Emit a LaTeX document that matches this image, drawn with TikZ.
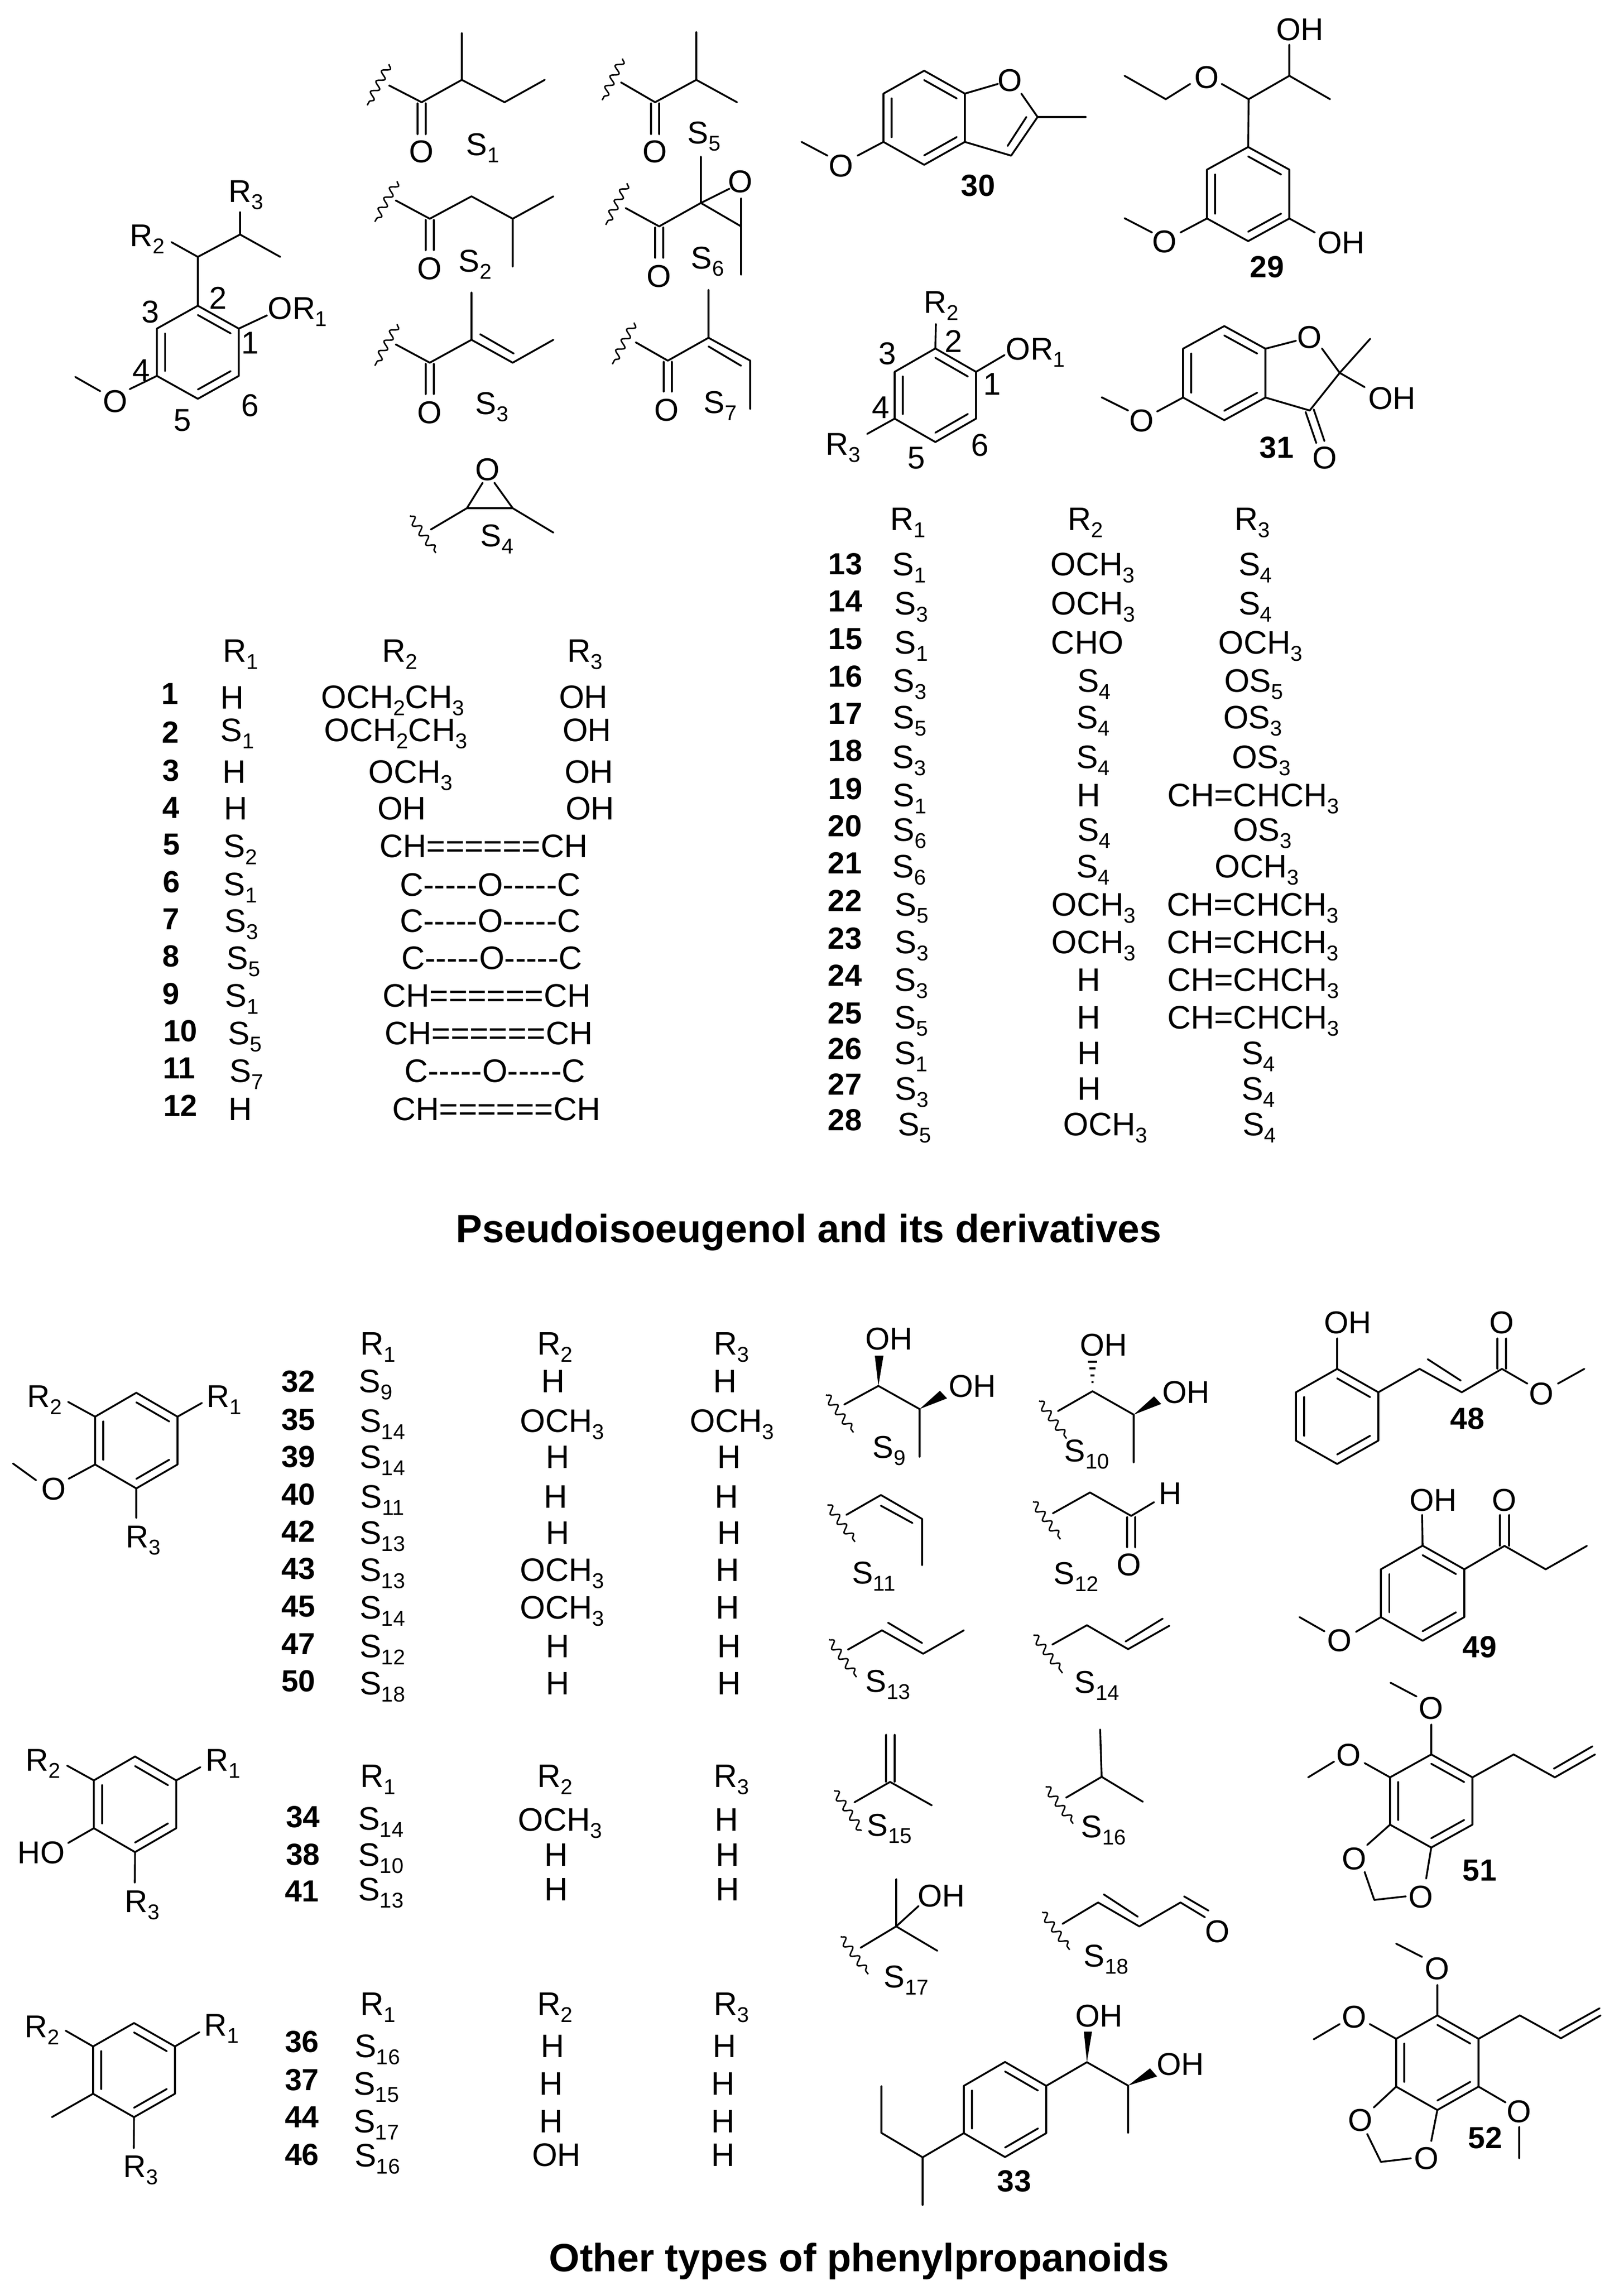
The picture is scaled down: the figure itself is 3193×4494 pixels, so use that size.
\documentclass[tikz,border=0pt]{standalone}
\usepackage{fontspec}
\newfontfamily\arial{Liberation Sans}
\usetikzlibrary{calc,decorations.pathmorphing}
\newcount\nn
\newcommand\su[1]{\raisebox{-14pt}{\fontsize{42}{42}\selectfont #1}}
\tikzset{
 bond/.style={line width=3.6pt,line join=round,line cap=round,color=black},
 wavy/.style={line width=2.8pt,decorate,decoration={snake,segment length=23pt,amplitude=7pt}},
 lab/.style={inner sep=0pt,text height=44pt,text depth=0pt,font=\arial\fontsize{62}{62}\selectfont},
 cell/.style={inner sep=0pt,text height=46pt,text depth=0pt,font=\arial\fontsize{64}{64}\selectfont},
 numb/.style={inner sep=0pt,text height=43pt,text depth=0pt,font=\arial\bfseries\fontsize{60}{60}\selectfont},
 ttl/.style={inner sep=0pt,font=\arial\bfseries\fontsize{77.5}{78}\selectfont}
}
\newcommand\lab[3]{\global\advance\nn by 1 \node[lab] (n\the\nn) at (#1,#2) {#3};}
\newcommand\nb[3]{\global\advance\nn by 1 \node[numb] (n\the\nn) at (#1,#2) {#3};}
\newcommand\cell[3]{\global\advance\nn by 1 \node[cell] (n\the\nn) at (#1,#2) {#3};}
\newcommand\hexa[6]{%
 \coordinate (#1c) at (#2,#3);
 \coordinate (#11) at (#2,{#3-#6});
 \coordinate (#12) at ({#2+#4},{#3-#5});
 \coordinate (#13) at ({#2+#4},{#3+#5});
 \coordinate (#14) at (#2,{#3+#6});
 \coordinate (#15) at ({#2-#4},{#3+#5});
 \coordinate (#16) at ({#2-#4},{#3-#5});
 \draw[bond] (#11)--(#12)--(#13)--(#14)--(#15)--(#16)--cycle;}
\newcommand\idb[3]{\draw[bond] ($(#1c)!.8!(#1#2)$) -- ($(#1c)!.8!(#1#3)$);}
\newcommand\Rone{R\su{1}}\newcommand\Rtwo{R\su{2}}\newcommand\Rthr{R\su{3}}
\newcommand\och{OCH\su{3}}
\newcommand\chch{CH=CHCH\su{3}}
\newcommand\cdb{CH======CH}
\newcommand\coc{C-----O-----C}
\begin{document}
\begin{tikzpicture}[x=1pt,y=-1pt]
\fill[white] (0,0) rectangle (3193,4494);
\useasboundingbox (0,0) rectangle (3193,4494);
% ---- pseudoisoeugenol core
\hexa{a}{389}{692.5}{80.5}{46.5}{91.5}
\idb{a}{1}{2}\idb{a}{5}{6}\idb{a}{3}{4}
\draw[bond] (a1)--(389,505)--(472,461)--(551,505) (389,505)--(337,476) (472,461)--(472,417) (a2)--(525,620) (a5)--(255,765) (148,741)--(197,769);
\lab{484}{375}{\Rthr}\lab{290}{462}{\Rtwo}\lab{585}{605}{O\Rone}
\lab{429}{585}{2}\lab{296}{612}{3}\lab{492}{673}{1}\lab{278}{727}{4}\lab{492}{796}{6}\lab{359}{825}{5}\lab{227}{788}{O}
% S1
\draw[wavy] (765,126)--(722,207);
\draw[bond] (765,168)--(829,201)--(908,157)--(992,201)--(1071,157) (908,157)--(908,65) (821,203)--(821,264) (837,203)--(837,264);
\lab{829}{297}{O}\lab{949}{283}{S\su{1}}
% S5
\draw[wavy] (1224,115)--(1184,197);
\draw[bond] (1221,162)--(1288,201)--(1369,157)--(1449,201) (1369,157)--(1369,63) (1280,203)--(1280,264) (1296,203)--(1296,264);
\lab{1288}{297}{O}\lab{1384}{260}{S\su{5}}
% S2
\draw[wavy] (781,356)--(737,436);
\draw[bond] (778,394)--(845,430)--(927,386)--(1008,430)--(1088,386) (1008,430)--(1008,524) (837,432)--(837,492) (853,432)--(853,492);
\lab{845}{527}{O}\lab{934}{512}{S\su{2}}
% S6
\draw[wavy] (1233,360)--(1191,442);
\draw[bond] (1230,409)--(1296,445)--(1378,399)--(1457,445)--(1457,540) (1378,399)--(1378,308) (1378,399)--(1434,371) (1457,390)--(1457,445) (1288,447)--(1288,507) (1304,447)--(1304,507);
\lab{1456}{356}{O}\lab{1296}{542}{O}\lab{1391}{506}{S\su{6}}
% S3
\draw[wavy] (781,637)--(737,719);
\draw[bond] (778,677)--(845,713)--(927,668)--(1008,713)--(1088,668) (927,668)--(927,575) (944,657)--(1010,695) (837,715)--(837,775) (853,715)--(853,775);
\lab{845}{810}{O}\lab{967}{792}{S\su{3}}
% S7
\draw[wavy] (1247,634)--(1204,716);
\draw[bond] (1250,673)--(1313,709)--(1393,664)--(1475,709)--(1475,804) (1393,664)--(1393,570) (1393,681)--(1457,719) (1305,711)--(1305,770) (1321,711)--(1321,770);
\lab{1311}{805}{O}\lab{1416}{790}{S\su{7}}
% S4
\draw[wavy] (806,1014)--(857,1087);
\draw[bond] (847,1041)--(918,999)--(1008,999)--(1088,1047) (918,999)--(949,949) (1008,999)--(972,949);
\lab{959}{922}{O}\lab{977}{1052}{S\su{4}}
% 30
\hexa{b}{1817}{231.5}{80}{47.5}{92.5}
\idb{b}{1}{2}\idb{b}{3}{4}\idb{b}{5}{6}
\draw[bond] (b2)--(1962,165) (2008,184)--(2040,230)--(1988,306)--(b3) (2018,230)--(1981,287) (2040,230)--(2135,230) (b5)--(1686,306) (1576,279)--(1627,306);
\lab{1986}{157}{O}\lab{1654}{325}{O}\nb{1923}{364}{30}
% 29
\hexa{c}{2454}{381.5}{81}{48}{92.5}
\idb{c}{1}{2}\idb{c}{3}{4}\idb{c}{5}{6}
\draw[bond] (c1)--(2455,195)--(2535,149)--(2535,88) (2535,149)--(2615,195) (2455,195)--(2402,165) (2340,165)--(2292,195)--(2211,149) (c5)--(2321,457) (2265,457)--(2211,429) (c3)--(2585,457);
\lab{2556}{57}{OH}\lab{2373}{151}{O}\lab{2290}{474}{O}\lab{2637}{476}{OH}\nb{2491}{524}{29}
% core 2
\hexa{d}{1839}{777}{80}{46}{92}
\idb{d}{1}{2}\idb{d}{5}{6}\idb{d}{3}{4}
\draw[bond] (d1)--(1840,637) (d2)--(1975,698) (d5)--(1705,853);
\lab{1851}{593}{\Rtwo}\lab{2036}{685}{O\Rone}\lab{1658}{872}{\Rthr}
\lab{1875}{670}{2}\lab{1745}{694}{3}\lab{1951}{754}{1}\lab{1732}{800}{4}\lab{1927}{874}{6}\lab{1802}{899}{5}
% 31
\hexa{e}{2407}{733.5}{81}{48}{92.5}
\idb{e}{1}{2}\idb{e}{3}{4}\idb{e}{5}{6}
\draw[bond] (e2)--(2548,670) (2599,685)--(2634,733)--(2575,807)--(e3) (2634,733)--(2694,666) (2634,733)--(2683,761) (e5)--(2275,809) (2218,807)--(2166,781) (2567,810)--(2588,871) (2583,805)--(2604,867);
\lab{2575}{662}{O}\lab{2737}{782}{OH}\lab{2245}{826}{O}\lab{2605}{899}{O}\nb{2510}{879}{31}
% table 1
\cell{473}{1278}{\Rone}\cell{786}{1278}{\Rtwo}\cell{1150}{1278}{\Rthr}
\nb{334}{1363}{1}\cell{457}{1370}{H}\cell{772}{1369}{OCH\su{2}CH\su{3}}\cell{1147}{1369}{OH}
\nb{335}{1439}{2}\cell{467}{1434}{S\su{1}}\cell{778}{1434}{OCH\su{2}CH\su{3}}\cell{1154}{1434}{OH}
\nb{336}{1514}{3}\cell{461}{1516}{H}\cell{807}{1516}{\och}\cell{1158}{1516}{OH}
\nb{336}{1587}{4}\cell{464}{1588}{H}\cell{790}{1588}{OH}\cell{1160}{1588}{OH}
\nb{337}{1659}{5}\cell{473}{1662}{S\su{2}}\cell{951}{1662}{\cdb}
\nb{337}{1733}{6}\cell{473}{1737}{S\su{1}}\cell{964}{1738}{\coc}
\nb{336}{1806}{7}\cell{475}{1809}{S\su{3}}\cell{964}{1809}{\coc}
\nb{336}{1879}{8}\cell{479}{1882}{S\su{5}}\cell{967}{1882}{\coc}
\nb{336}{1953}{9}\cell{476}{1956}{S\su{1}}\cell{957}{1956}{\cdb}
\nb{355}{2026}{10}\cell{482}{2030}{S\su{5}}\cell{961}{2030}{\cdb}
\nb{352}{2099}{11}\cell{485}{2104}{S\su{7}}\cell{973}{2104}{\coc}
\nb{355}{2173}{12}\cell{473}{2179}{H}\cell{976}{2179}{\cdb}
% table 2
\cell{1785}{1019}{\Rone}\cell{2134}{1019}{\Rtwo}\cell{2462}{1019}{\Rthr}
\nb{1662}{1108}{13}\cell{1788}{1108}{S\su{1}}\cell{2148}{1108}{\och}\cell{2468}{1108}{S\su{4}}
\nb{1662}{1181}{14}\cell{1792}{1185}{S\su{3}}\cell{2149}{1185}{\och}\cell{2468}{1185}{S\su{4}}
\nb{1662}{1255}{15}\cell{1792}{1262}{S\su{1}}\cell{2138}{1262}{CHO}\cell{2478}{1262}{\och}
\nb{1662}{1329}{16}\cell{1789}{1337}{S\su{3}}\cell{2151}{1337}{S\su{4}}\cell{2465}{1337}{OS\su{5}}
\nb{1662}{1402}{17}\cell{1789}{1409}{S\su{5}}\cell{2149}{1409}{S\su{4}}\cell{2463}{1409}{OS\su{3}}
\nb{1662}{1475}{18}\cell{1788}{1487}{S\su{3}}\cell{2149}{1487}{S\su{4}}\cell{2480}{1487}{OS\su{3}}
\nb{1662}{1550}{19}\cell{1789}{1562}{S\su{1}}\cell{2141}{1562}{H}\cell{2464}{1562}{\chch}
\nb{1661}{1623}{20}\cell{1789}{1630}{S\su{6}}\cell{2151}{1630}{S\su{4}}\cell{2482}{1630}{OS\su{3}}
\nb{1661}{1696}{21}\cell{1788}{1702}{S\su{6}}\cell{2149}{1702}{S\su{4}}\cell{2471}{1702}{\och}
\nb{1661}{1770}{22}\cell{1793}{1777}{S\su{5}}\cell{2150}{1777}{\och}\cell{2463}{1777}{\chch}
\nb{1661}{1844}{23}\cell{1793}{1851}{S\su{3}}\cell{2150}{1851}{\och}\cell{2463}{1851}{\chch}
\nb{1661}{1917}{24}\cell{1792}{1925}{S\su{3}}\cell{2141}{1925}{H}\cell{2464}{1925}{\chch}
\nb{1661}{1991}{25}\cell{1792}{1999}{S\su{5}}\cell{2141}{1999}{H}\cell{2464}{1999}{\chch}
\nb{1661}{2061}{26}\cell{1791}{2069}{S\su{1}}\cell{2142}{2069}{H}\cell{2474}{2069}{S\su{4}}
\nb{1661}{2131}{27}\cell{1793}{2139}{S\su{3}}\cell{2142}{2139}{H}\cell{2474}{2139}{S\su{4}}
\nb{1661}{2201}{28}\cell{1798}{2209}{S\su{5}}\cell{2173}{2209}{\och}\cell{2476}{2209}{S\su{4}}
\global\advance\nn by 1 \node[ttl] (n\the\nn) at (1590,2423) {Pseudoisoeugenol and its derivatives};
% lower left rings
\hexa{f}{268}{2832}{81}{47}{94}
\idb{f}{1}{2}\idb{f}{3}{4}\idb{f}{5}{6}
\draw[bond] (f6)--(134,2756) (f2)--(397,2758) (f5)--(135,2907) (25.5,2877)--(71,2910) (f4)--(268,2984);
\lab{88}{2744}{\Rtwo}\lab{441}{2744}{\Rone}\lab{106}{2926}{O}\lab{282}{3020}{\Rthr}
\hexa{g}{265.5}{3547}{81}{47}{94}
\idb{g}{1}{2}\idb{g}{3}{4}\idb{g}{5}{6}
\draw[bond] (g6)--(132,3471) (g2)--(394,3474) (g5)--(134,3623) (g4)--(265,3701);
\lab{85}{3459}{\Rtwo}\lab{439}{3459}{\Rone}\lab{81}{3641}{HO}\lab{280}{3737}{\Rthr}
\hexa{h}{263.5}{4069.5}{80.5}{46.5}{92.5}
\idb{h}{1}{2}\idb{h}{3}{4}\idb{h}{5}{6}
\draw[bond] (h6)--(129,3992) (h2)--(392,3995) (h5)--(102,4162) (h4)--(263,4223);
\lab{83}{3983}{\Rtwo}\lab{436}{3980}{\Rone}\lab{277}{4258}{\Rthr}
% table 3
\cell{743}{2640}{\Rone}\cell{1091}{2640}{\Rtwo}\cell{1438}{2640}{\Rthr}
\nb{587}{2715}{32}\cell{739}{2714}{S\su{9}}\cell{1088}{2714}{H}\cell{1426}{2714}{H}
\nb{587}{2790}{35}\cell{752}{2792}{S\su{14}}\cell{1105}{2792}{\och}\cell{1439}{2792}{\och}
\nb{587}{2863}{39}\cell{752}{2863}{S\su{14}}\cell{1097}{2863}{H}\cell{1434}{2863}{H}
\nb{587}{2937}{40}\cell{752}{2941}{S\su{11}}\cell{1093}{2941}{H}\cell{1429}{2941}{H}
\nb{587}{3010}{42}\cell{752}{3012}{S\su{13}}\cell{1097}{3012}{H}\cell{1434}{3012}{H}
\nb{587}{3083}{43}\cell{752}{3085}{S\su{13}}\cell{1105}{3085}{\och}\cell{1431}{3085}{H}
\nb{587}{3157}{45}\cell{752}{3159}{S\su{14}}\cell{1105}{3159}{\och}\cell{1431}{3159}{H}
\nb{587}{3231}{47}\cell{752}{3235}{S\su{12}}\cell{1097}{3235}{H}\cell{1434}{3235}{H}
\nb{587}{3304}{50}\cell{752}{3308}{S\su{18}}\cell{1097}{3308}{H}\cell{1434}{3308}{H}
% table 4
\cell{743}{3490}{\Rone}\cell{1091}{3490}{\Rtwo}\cell{1438}{3490}{\Rthr}
\nb{596}{3571}{34}\cell{749}{3574}{S\su{14}}\cell{1101}{3576}{\och}\cell{1429}{3576}{H}
\nb{596}{3645}{38}\cell{749}{3645}{S\su{10}}\cell{1094}{3645}{H}\cell{1431}{3645}{H}
\nb{594}{3717}{41}\cell{749}{3713}{S\su{13}}\cell{1094}{3713}{H}\cell{1431}{3713}{H}
% table 5
\cell{743}{3938}{\Rone}\cell{1091}{3938}{\Rtwo}\cell{1438}{3938}{\Rthr}
\nb{594}{4013}{36}\cell{742}{4021}{S\su{16}}\cell{1087}{4021}{H}\cell{1425}{4021}{H}
\nb{594}{4088}{37}\cell{740}{4095}{S\su{15}}\cell{1084}{4095}{H}\cell{1422}{4095}{H}
\nb{594}{4161}{44}\cell{740}{4169}{S\su{17}}\cell{1084}{4169}{H}\cell{1422}{4169}{H}
\nb{594}{4235}{46}\cell{742}{4236}{S\su{16}}\cell{1094}{4235}{OH}\cell{1422}{4235}{H}
\global\advance\nn by 1 \node[ttl] (n\the\nn) at (1689,4445) {Other types of phenylpropanoids};
% S9
\draw[wavy] (1624,2742)--(1678,2816);
\draw[bond] (1660,2761)--(1727,2724.5)--(1808,2770)--(1808,2864);
\fill (1727,2724.5)--(1720,2665)--(1737,2665)--cycle (1808,2770)--(1848,2734)--(1862,2749)--cycle;
\lab{1748}{2631}{OH}\lab{1912}{2724}{OH}\lab{1748}{2844}{S\su{9}}
% S10
\draw[wavy] (2043,2754)--(2097,2828);
\draw[bond] (2080,2774)--(2148,2735)--(2229,2781)--(2229,2875);
\fill (2229,2781)--(2269,2745)--(2283,2760)--cycle;
\draw[line width=3.4pt] (2146,2717)--(2150,2717) (2144,2704)--(2152,2704) (2142,2690)--(2154,2690) (2139,2677)--(2157,2677);
\lab{2170}{2643}{OH}\lab{2332}{2736}{OH}\lab{2137}{2851}{S\su{10}}
% S11
\draw[wavy] (1627,2958)--(1681,3031);
\draw[bond] (1664,2978)--(1732,2939)--(1813,2986)--(1813,3077) (1732,2960)--(1794,2994);
\lab{1718}{3091}{S\su{11}}
% S12
\draw[wavy] (2031,2952)--(2085,3026);
\draw[bond] (2070,2975)--(2143,2934)--(2224,2980)--(2269,2953) (2216,2982)--(2216,3042) (2232,2982)--(2232,3042);
\lab{2301}{2935}{H}\lab{2220}{3075}{O}\lab{2116}{3092}{S\su{12}}
% S13
\draw[wavy] (1630,3223)--(1684,3297);
\draw[bond] (1667,3243)--(1734,3205)--(1815,3251)--(1895,3205) (1746,3190)--(1813,3230);
\lab{1746}{3304}{S\su{13}}
% S14
\draw[wavy] (2032,3214)--(2089,3289);
\draw[bond] (2069,3233)--(2137,3195)--(2218,3242)--(2299,3196) (2213,3227)--(2286,3182);
\lab{2157}{3306}{S\su{14}}
% S15
\draw[wavy] (1640,3520)--(1694,3599);
\draw[bond] (1680,3543)--(1750,3503)--(1832,3549) (1742,3503)--(1742,3410) (1759,3503)--(1759,3410);
\lab{1749}{3587}{S\su{15}}
% S16
\draw[wavy] (2056,3512)--(2110,3585);
\draw[bond] (2096,3534)--(2166,3493)--(2247,3542) (2166,3493)--(2163,3400);
\lab{2170}{3590}{S\su{16}}
% S17
\draw[wavy] (1653,3807)--(1707,3881);
\draw[bond] (1692,3829)--(1762,3787)--(1843,3835) (1762,3787)--(1762,3694) (1762,3787)--(1806,3747);
\lab{1851}{3726}{OH}\lab{1782}{3885}{S\su{17}}
% S18
\draw[wavy] (2049,3759)--(2103,3833);
\draw[bond] (2089,3782)--(2159,3740)--(2240,3787)--(2321,3740)--(2369,3769) (2170,3724)--(2237,3768) (2328,3728)--(2376,3756);
\lab{2394}{3796}{O}\lab{2175}{3844}{S\su{18}}
% 33
\hexa{i}{1976}{4147}{81}{46.5}{93.5}
\idb{i}{1}{2}\idb{i}{3}{4}\idb{i}{5}{6}
\draw[bond] (i2)--(2137,4054)--(2218,4100)--(2218,4193) (i5)--(1814,4241)--(1814,4335) (1814,4241)--(1733,4193)--(1733,4101);
\fill (2137,4054)--(2131,3994)--(2147,3994)--cycle (2218,4100)--(2261,4066)--(2275,4082)--cycle;
\lab{2161}{3962}{OH}\lab{2321}{4057}{OH}\nb{1994}{4287}{33}
% 48
\hexa{j}{2629}{2784.5}{81}{47.5}{93.5}
\idb{j}{1}{2}\idb{j}{3}{4}\idb{j}{5}{6}
\draw[bond] (j1)--(2629,2631) (j2)--(2791,2691)--(2874,2737)--(2953,2691)--(3003,2720) (2807,2672)--(2872,2714) (2944,2691)--(2944,2631) (2961,2691)--(2961,2631) (3063,2720)--(3115,2691);
\lab{2650}{2599}{OH}\lab{2953}{2599}{O}\lab{3031}{2739}{O}\nb{2885}{2788}{48}
% 49
\hexa{k}{2797}{3132}{82}{47}{93.5}
\idb{k}{1}{2}\idb{k}{3}{4}\idb{k}{5}{6}
\draw[bond] (k1)--(2796,2978) (k2)--(2958,3039)--(3039,3085)--(3120,3039) (2949,3039)--(2949,2978) (2967,3039)--(2967,2978) (k5)--(2666,3208) (2604,3207)--(2555,3179);
\lab{2818}{2948}{OH}\lab{2958}{2948}{O}\lab{2634}{3224}{O}\nb{2909}{3237}{49}
% 51
\hexa{l}{2814}{3540.5}{81}{46.5}{91.5}
\idb{l}{1}{2}\idb{l}{3}{4}\idb{l}{5}{6}
\draw[bond] (l1)--(2814,3390) (2785,3335)--(2734,3308) (l6)--(2683,3466) (2623,3463)--(2572,3494) (l2)--(2976,3449)--(3057,3494)--(3136,3449) (3055,3477)--(3131,3433) (l5)--(2688,3627) (2683,3680)--(2702,3735)--(2764,3728) (2804,3693)--(l4);
\lab{2814}{3357}{O}\lab{2652}{3449}{O}\lab{2663}{3653}{O}\lab{2794}{3728}{O}\nb{2909}{3676}{51}
% 52
\hexa{m}{2826}{4055}{81}{47}{93}
\idb{m}{1}{2}\idb{m}{3}{4}\idb{m}{5}{6}
\draw[bond] (m1)--(2826,3902) (2796,3847)--(2745,3821) (m6)--(2693,3979) (2634,3979)--(2583,4009) (m2)--(2988,3962)--(3069,4007)--(3147,3962) (3066,3992)--(3145,3948) (m3)--(2960,4133) (2987,4181)--(2987,4243) (m5)--(2701,4143) (2688,4195)--(2715,4250)--(2774,4243) (2814,4209)--(m4);
\lab{2826}{3869}{O}\lab{2663}{3964}{O}\lab{2987}{4150}{O}\lab{2675}{4167}{O}\lab{2805}{4242}{O}\nb{2920}{4202}{52}
\end{tikzpicture}
\end{document}
